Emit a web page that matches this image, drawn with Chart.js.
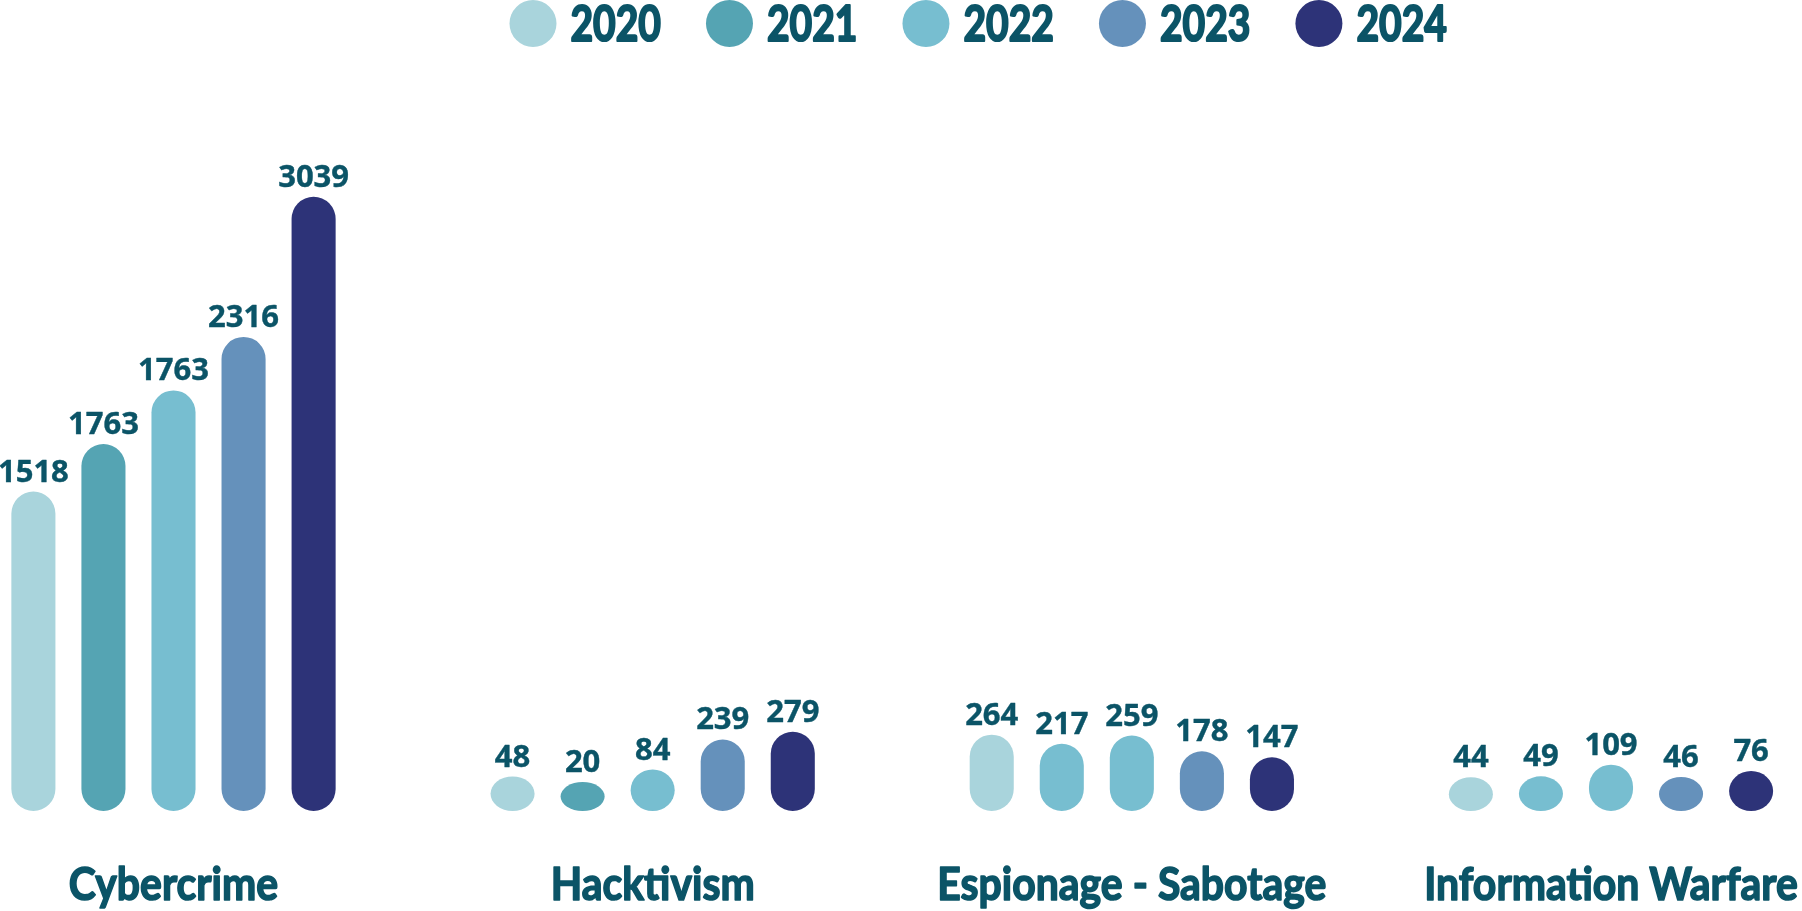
<!DOCTYPE html>
<html>
<head>
<meta charset="utf-8">
<script src="https://cdn.jsdelivr.net/npm/chart.js@4.4.1/dist/chart.umd.min.js"></script>
<style>
  html, body { margin: 0; padding: 0; background: #fff; }
  #wrap { width: 1802px; height: 911px; }
</style>
</head>
<body>
<div id="wrap"><canvas id="myChart"></canvas></div>
<script>
var categories = ["Cybercrime", "Hacktivism", "Espionage - Sabotage", "Information Warfare"];
var years = ["2020", "2021", "2022", "2023", "2024"];

var values2020 = [1518, 48, 264, 44];
var values2021 = [1763, 20, 217, 49];
var values2022 = [2040, 84, 259, 109];
var values2023 = [2316, 239, 178, 46];
var values2024 = [3039, 279, 147, 76];

// the source prints 1763 above the (taller) 2022 cybercrime bar
var printed2022 = [1763, 84, 259, 109];

var barColors = ["#a9d4dc", "#55a4b3", "#77bed0", "#6591bb", "#2d3378"];
// 2021 bars of the last two groups are drawn in the 2022 colour in the source
var colors2021 = ["#55a4b3", "#55a4b3", "#77bed0", "#77bed0"];
var textColor = "#0b5467";

// no condensed font around, so squeeze Lato a bit
var narrowFont = "Lato, 'Open Sans', sans-serif";

function makeSet(i, values, shown, color) {
  return {
    label: years[i],
    data: values,
    shown: shown || values,
    backgroundColor: color,
    borderRadius: 22,
    borderSkipped: false,
    base: -130,
    clip: false,
  };
}

// short bars come out as ellipses in the source, not flat pills
var barDraw = Chart.BarElement.prototype.draw;
Chart.BarElement.prototype.draw = function (ctx) {
  var h = Math.abs(this.base - this.y);
  if (h >= this.width) return barDraw.call(this, ctx);
  ctx.save();
  ctx.fillStyle = this.options.backgroundColor;
  ctx.beginPath();
  ctx.ellipse(this.x, (this.y + this.base) / 2, this.width / 2, h / 2, 0, 0, Math.PI * 2);
  ctx.fill();
  ctx.restore();
};

// squeezed + slightly stroked, to look like the heavy condensed face
function squeezed(ctx, text, x, y, k, stroke) {
  ctx.save();
  ctx.translate(x, y);
  ctx.scale(k, 1);
  ctx.fillText(text, 0, 0);
  if (stroke) {
    ctx.strokeStyle = textColor;
    ctx.lineWidth = stroke;
    ctx.lineJoin = "round";
    ctx.strokeText(text, 0, 0);
  }
  ctx.restore();
}

var texts = {
  id: "texts",
  afterDatasetsDraw: function (chart) {
    var ctx = chart.ctx;
    ctx.save();
    ctx.fillStyle = textColor;
    ctx.textAlign = "center";
    ctx.textBaseline = "alphabetic";

    // values above bars
    ctx.font = "bold 31px 'Open Sans'";
    chart.data.datasets.forEach(function (ds, i) {
      chart.getDatasetMeta(i).data.forEach(function (bar, j) {
        squeezed(ctx, String(ds.shown[j]), bar.x, bar.y - 10, 1, 0.4);
      });
    });

    // category names
    ctx.font = "bold 46px " + narrowFont;
    var xs = chart.scales.x;
    categories.forEach(function (c, j) {
      squeezed(ctx, c, xs.getPixelForValue(j), 900, 0.89, 1.6);
    });

    // legend
    ctx.font = "bold 50px " + narrowFont;
    ctx.textAlign = "left";
    var lx = 509.5;
    years.forEach(function (y, i) {
      ctx.fillStyle = barColors[i];
      ctx.beginPath();
      ctx.arc(lx + 23.5, 23.5, 23.5, 0, Math.PI * 2);
      ctx.fill();
      ctx.fillStyle = textColor;
      squeezed(ctx, y, lx + 61, 41, 0.78, 2.2);
      lx += 61 + ctx.measureText(y).width * 0.78 + 45;
    });
    ctx.restore();
  },
};

new Chart("myChart", {
  type: "bar",
  data: {
    labels: categories,
    datasets: [
      makeSet(0, values2020, null, barColors[0]),
      makeSet(1, values2021, null, colors2021),
      makeSet(2, values2022, printed2022, barColors[2]),
      makeSet(3, values2023, null, barColors[3]),
      makeSet(4, values2024, null, barColors[4]),
    ],
  },
  options: {
    responsive: true,
    maintainAspectRatio: false,
    animation: false,
    devicePixelRatio: 1,
    categoryPercentage: 0.731,
    barPercentage: 0.629,
    layout: {
      padding: { left: 173.5, right: 191, top: 60, bottom: 100 },
    },
    plugins: {
      legend: { display: false },
      tooltip: { enabled: false },
    },
    scales: {
      x: { display: false, offset: false },
      y: { display: false, min: -130, max: 3745 },
    },
  },
  plugins: [texts],
});
</script>
</body>
</html>
